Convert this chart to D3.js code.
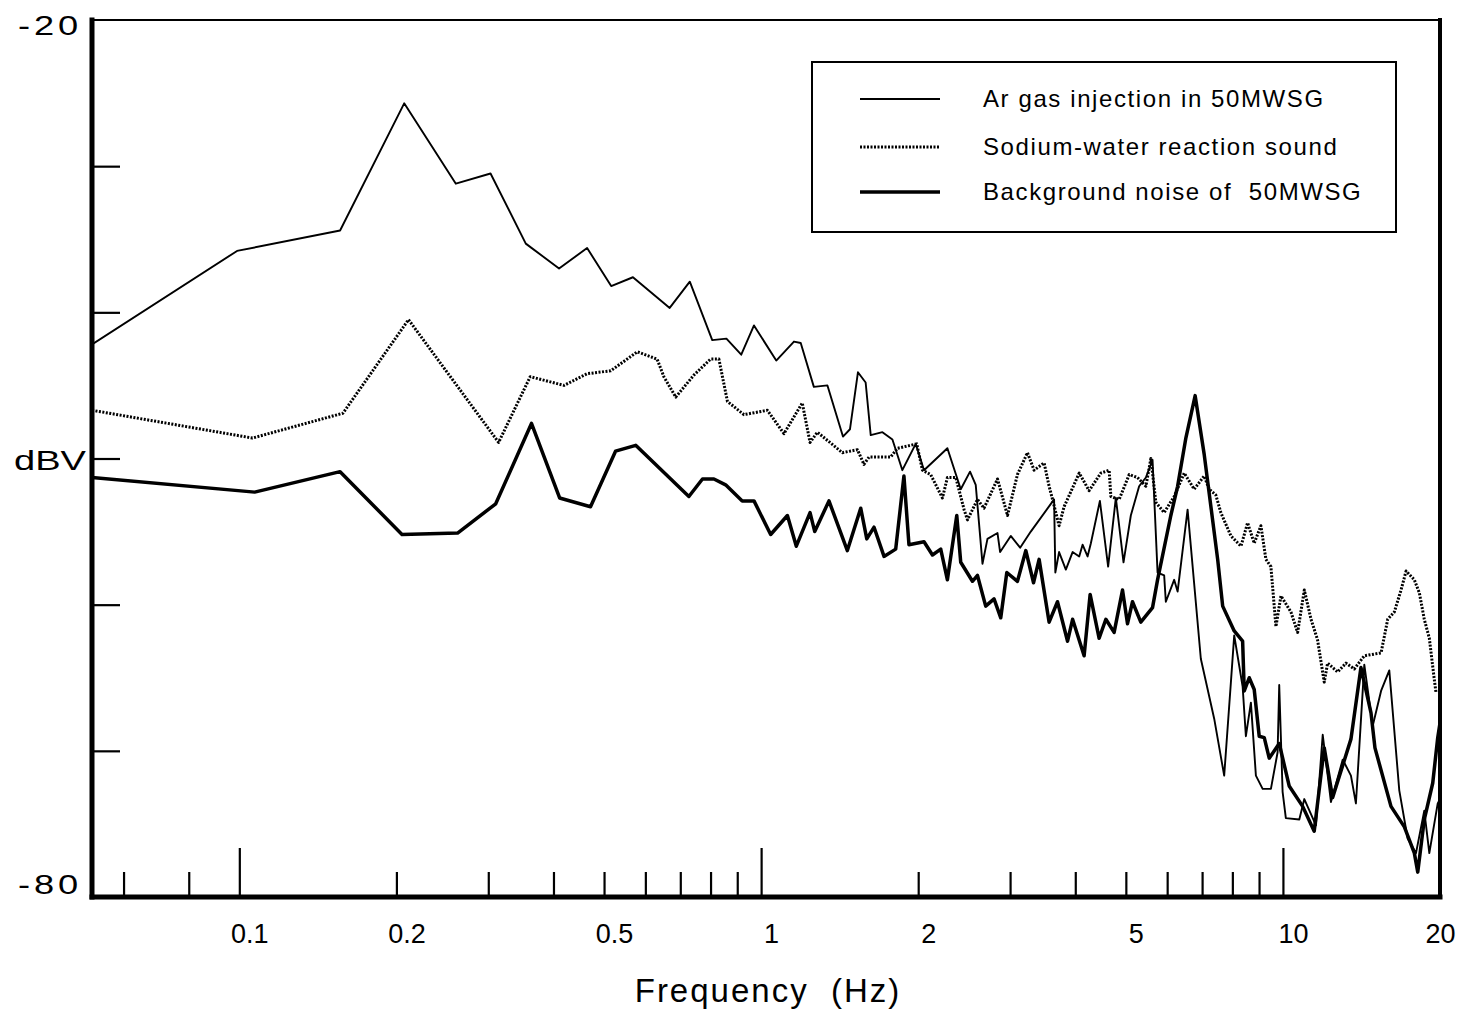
<!DOCTYPE html>
<html>
<head>
<meta charset="utf-8">
<script src="https://cdn.jsdelivr.net/npm/d3@7"></script>
<style>
    body { margin: 0; background: #fff; }
    svg { display: block; }
</style>
</head>
<body>
<div id="container"></div>
<script>
const margin = ({top: 20, right: 26, bottom: 117, left: 92});
const width = 1466,
    height = 1014;
const font = "'Liberation Sans', Arial, Helvetica, sans-serif";

// Ar gas injection in 50MWSG: frequency (Hz) / level (dBV)
const argasFreq = [0.0522, 0.099, 0.156, 0.207, 0.260, 0.303, 0.354, 0.410, 0.464, 0.516,
    0.568, 0.668, 0.730, 0.806, 0.858, 0.916, 0.969, 1.069, 1.156, 1.191,
    1.262, 1.340, 1.435, 1.480, 1.533, 1.586, 1.622, 1.708, 1.785, 1.865,
    1.978, 2.052, 2.275, 2.413, 2.514, 2.578, 2.656, 2.715, 2.838, 2.871,
    3.009, 3.136, 3.287, 3.643, 3.663, 3.724, 3.837, 3.953, 4.070, 4.131,
    4.223, 4.285, 4.459, 4.624, 4.784, 4.949, 5.111, 5.302, 5.462, 5.625,
    5.751, 5.921, 5.965, 6.188, 6.283, 6.566, 6.961, 7.384, 7.717, 7.949,
    8.066, 8.371, 8.492, 8.682, 8.876, 9.144, 9.484, 9.768, 9.838, 9.986,
    10.13, 10.75, 10.99, 11.57, 11.92, 12.36, 13.02, 13.50, 13.80, 14.32,
    14.86, 15.42, 15.99, 16.71, 17.34, 17.99, 18.66, 19.08, 19.80, 20.0];
const argasLevel = [-42.2, -35.8, -34.4, -25.7, -31.2, -30.5, -35.3, -37.0, -35.6, -38.2,
    -37.6, -39.7, -37.9, -41.9, -41.8, -42.9, -40.9, -43.3, -42.0, -42.1,
    -45.1, -45.0, -48.5, -48.0, -44.1, -44.8, -48.4, -48.2, -48.7, -50.8,
    -49.0, -50.8, -49.3, -52.1, -50.9, -51.8, -57.2, -55.5, -55.1, -56.4,
    -55.3, -56.1, -55.0, -52.8, -57.8, -56.4, -57.6, -56.4, -56.7, -55.9,
    -56.7, -55.8, -52.9, -57.4, -52.7, -57.1, -53.9, -51.9, -51.3, -50.1,
    -57.8, -58.0, -59.8, -58.3, -59.1, -53.5, -63.7, -67.8, -71.7, -65.3,
    -62.1, -65.6, -69.0, -66.7, -71.7, -72.6, -72.6, -70.1, -65.5, -72.8,
    -74.6, -74.7, -73.3, -75.1, -68.9, -73.5, -70.6, -71.7, -73.6, -64.1,
    -68.3, -65.9, -64.5, -72.7, -76.0, -77.0, -74.1, -77.0, -73.6, -73.3];

// Sodium-water reaction sound
const sodiumFreq = [0.0522, 0.106, 0.158, 0.211, 0.314, 0.361, 0.419, 0.464, 0.515, 0.579,
    0.632, 0.651, 0.686, 0.743, 0.800, 0.830, 0.862, 0.927, 1.028, 1.106,
    1.199, 1.241, 1.282, 1.431, 1.530, 1.574, 1.610, 1.771, 1.825, 1.987,
    2.038, 2.113, 2.226, 2.275, 2.361, 2.449, 2.486, 2.598, 2.674, 2.838,
    2.966, 3.099, 3.239, 3.335, 3.486, 3.564, 3.618, 3.724, 3.807, 4.070,
    4.252, 4.477, 4.645, 4.680, 4.854, 5.074, 5.264, 5.462, 5.584, 5.708,
    5.921, 6.188, 6.469, 6.760, 7.064, 7.224, 7.438, 7.604, 7.949, 8.310,
    8.557, 8.810, 9.074, 9.277, 9.484, 9.696, 9.913, 10.36, 10.67, 10.99,
    11.32, 11.65, 12.00, 12.18, 12.73, 13.21, 13.70, 14.32, 15.42, 15.88,
    16.35, 16.84, 17.22, 17.86, 18.26, 18.66, 19.08, 19.50, 19.65];
const sodiumLevel = [-46.7, -48.6, -46.9, -40.5, -48.9, -44.4, -45.0, -44.2, -44.0, -42.7,
    -43.2, -44.4, -45.8, -44.3, -43.2, -43.2, -46.1, -47.0, -46.7, -48.3,
    -46.2, -48.9, -48.2, -49.6, -49.4, -50.4, -49.9, -49.9, -49.3, -49.0,
    -50.8, -51.1, -52.7, -51.3, -51.3, -53.5, -54.2, -52.8, -53.4, -51.4,
    -53.9, -51.1, -49.6, -50.8, -50.3, -51.9, -52.8, -54.6, -53.3, -51.0,
    -52.2, -51.0, -50.8, -52.6, -52.8, -51.1, -51.3, -51.9, -50.0, -53.0,
    -53.7, -52.6, -51.0, -52.1, -51.2, -52.1, -52.5, -53.7, -55.3, -56.0,
    -54.4, -55.8, -54.6, -56.9, -57.4, -61.5, -59.4, -60.5, -61.9, -59.0,
    -61.0, -62.4, -65.3, -64.0, -64.6, -64.0, -64.4, -63.5, -63.3, -61.0,
    -60.5, -59.0, -57.7, -58.3, -59.2, -61.0, -62.3, -65.1, -66.0];

// Background noise of 50MWSG
const backgroundFreq = [0.0522, 0.107, 0.156, 0.205, 0.262, 0.310, 0.363, 0.411, 0.471, 0.526,
    0.575, 0.727, 0.772, 0.812, 0.855, 0.920, 0.969, 1.043, 1.123, 1.168,
    1.241, 1.267, 1.349, 1.463, 1.552, 1.594, 1.646, 1.720, 1.811, 1.878,
    1.920, 2.052, 2.130, 2.209, 2.275, 2.371, 2.413, 2.541, 2.598, 2.694,
    2.795, 2.879, 2.957, 3.099, 3.216, 3.327, 3.410, 3.564, 3.698, 3.866,
    3.953, 4.159, 4.271, 4.444, 4.578, 4.748, 4.927, 5.037, 5.149, 5.341,
    5.625, 5.751, 6.098, 6.283, 6.516, 6.789, 7.064, 7.278, 7.498, 7.666,
    8.066, 8.371, 8.431, 8.618, 8.810, 9.007, 9.209, 9.413, 9.838, 10.28,
    10.91, 11.48, 12.00, 12.45, 13.02, 13.50, 14.11, 14.75, 15.01, 16.11,
    17.09, 17.86, 18.13, 18.66, 19.37, 19.80, 20.0];
const backgroundLevel = [-51.3, -52.3, -50.9, -55.2, -55.1, -53.1, -47.6, -52.7, -53.3, -49.5,
    -49.1, -52.6, -51.4, -51.4, -51.8, -52.9, -52.9, -55.2, -53.9, -56.0,
    -53.7, -55.0, -52.9, -56.3, -53.4, -55.5, -54.7, -56.7, -56.2, -51.2,
    -55.9, -55.7, -56.6, -56.2, -58.3, -53.9, -57.1, -58.4, -58.0, -60.1,
    -59.6, -60.9, -57.8, -58.4, -56.3, -58.5, -56.9, -61.2, -59.8, -62.5,
    -61.0, -63.5, -59.3, -62.3, -61.0, -61.9, -59.0, -61.3, -59.8, -61.2,
    -60.2, -58.3, -53.9, -51.9, -48.6, -45.7, -49.7, -53.3, -56.9, -60.1,
    -61.8, -62.5, -65.9, -65.0, -65.8, -69.0, -69.1, -70.5, -69.5, -72.4,
    -73.8, -75.5, -69.8, -73.2, -71.0, -69.2, -64.3, -67.4, -69.8, -73.8,
    -75.2, -77.0, -78.3, -74.7, -72.2, -69.1, -68.1];

const seriesNames = ["Ar gas injection in 50MWSG", "Sodium-water reaction sound", "Background noise of  50MWSG"];

// axis ticks
const minorTicks = [0.06, 0.08, 0.2, 0.3, 0.4, 0.5, 0.6, 0.7, 0.8, 0.9, 2, 3, 4, 5, 6, 7, 8, 9];
const majorTicks = [0.1, 1, 10];
const xTickLabels = [0.1, 0.2, 0.5, 1, 2, 5, 10, 20];
const yTicks = [-30, -40, -50, -60, -70];

const x = d3.scaleLog()
    .domain([0.0522, 20])
    .range([margin.left, width - margin.right]);
const y = d3.scaleLinear()
    .domain([-80, -20])
    .range([height - margin.bottom, margin.top]);

const svg = d3.select("#container").append("svg")
    .attr("width", width)
    .attr("height", height)
    .attr("font-family", font);

svg.append("clipPath").attr("id", "plot-clip")
    .append("rect")
    .attr("x", x.range()[0])
    .attr("y", y.range()[1])
    .attr("width", x.range()[1] - x.range()[0])
    .attr("height", y.range()[0] - y.range()[1]);

// Series
const series = [
    {name: seriesNames[0], freq: argasFreq, level: argasLevel, width: 1.9, dash: null},
    {name: seriesNames[1], freq: sodiumFreq, level: sodiumLevel, width: 3, dash: "2,1.5"},
    {name: seriesNames[2], freq: backgroundFreq, level: backgroundLevel, width: 3.5, dash: null}
];

const line = d3.line()
    .x(d => x(d[0]))
    .y(d => y(d[1]));

const plot = svg.append("g").attr("clip-path", "url(#plot-clip)");
for (let s of series) {
    plot.append("path")
        .datum(d3.zip(s.freq, s.level))
        .attr("fill", "none")
        .attr("stroke", "#000")
        .attr("stroke-width", s.width)
        .attr("stroke-linejoin", "round")
        .attr("stroke-dasharray", s.dash)
        .attr("d", line);
}

// Ticks (drawn inward)
function tickAxis(g, axis) {
    return g.call(axis)
        .call(g => g.select(".domain").remove())
        .call(g => g.selectAll(".tick line").attr("stroke", "#000").attr("stroke-width", 2.2));
}
svg.append("g")
    .attr("transform", `translate(0,${y(-80)})`)
    .call(tickAxis, d3.axisBottom(x).tickValues(minorTicks).tickSize(-25).tickFormat(""));
svg.append("g")
    .attr("transform", `translate(0,${y(-80)})`)
    .call(tickAxis, d3.axisBottom(x).tickValues(majorTicks).tickSize(-49).tickFormat(""));
svg.append("g")
    .attr("transform", `translate(${x(0.0522)},0)`)
    .call(tickAxis, d3.axisLeft(y).tickValues(yTicks).tickSize(-28).tickFormat(""));

// x tick labels
svg.append("g")
    .attr("transform", `translate(0,${y(-80)})`)
    .call(d3.axisBottom(x).tickValues(xTickLabels).tickSize(0).tickPadding(27).tickFormat(d => d))
    .call(g => g.select(".domain").remove())
    .call(g => g.selectAll("text")
        .attr("font-family", font)
        .attr("font-size", 27)
        .attr("dx", d => d === 20 ? 0 : 10)
        .attr("fill", "#000"));

// Frame
const [x0, x1] = x.range(), [y0, y1] = y.range();
const frame = svg.append("g").attr("stroke", "#000").attr("stroke-linecap", "square");
frame.append("line").attr("x1", x0).attr("x2", x1).attr("y1", y1).attr("y2", y1).attr("stroke-width", 2);
frame.append("line").attr("x1", x0).attr("x2", x1).attr("y1", y0).attr("y2", y0).attr("stroke-width", 5);
frame.append("line").attr("x1", x0).attr("x2", x0).attr("y1", y1).attr("y2", y0).attr("stroke-width", 5);
frame.append("line").attr("x1", x1).attr("x2", x1).attr("y1", y1).attr("y2", y0).attr("stroke-width", 4);

// y labels (wide plotter lettering)
const yLab = svg.append("g")
    .attr("text-anchor", "end")
    .attr("fill", "#000");
yLab.append("text")
    .attr("x", 82).attr("y", y(-20) + 15)
    .attr("font-size", 28).attr("letter-spacing", 3)
    .attr("textLength", 64).attr("lengthAdjust", "spacingAndGlyphs")
    .text("-20");
yLab.append("text")
    .attr("x", 86).attr("y", y(-50) + 11)
    .attr("font-size", 28)
    .attr("textLength", 72).attr("lengthAdjust", "spacingAndGlyphs")
    .text("dBV");
yLab.append("text")
    .attr("x", 82).attr("y", y(-80) - 3)
    .attr("font-size", 28).attr("letter-spacing", 3)
    .attr("textLength", 64).attr("lengthAdjust", "spacingAndGlyphs")
    .text("-80");

// x title
svg.append("text")
    .attr("x", (x0 + x1) / 2 + 2)
    .attr("y", 1002)
    .attr("text-anchor", "middle")
    .attr("font-size", 33)
    .attr("letter-spacing", 2)
    .attr("xml:space", "preserve")
    .text("Frequency  (Hz)");

// Legend
const legend = svg.append("g");
legend.append("rect")
    .attr("x", 812).attr("y", 62)
    .attr("width", 584).attr("height", 170)
    .attr("fill", "#fff")
    .attr("stroke", "#000")
    .attr("stroke-width", 2);
const legendY = [99, 147, 192];
series.forEach((s, i) => {
    legend.append("line")
        .attr("x1", 860).attr("x2", 940)
        .attr("y1", legendY[i]).attr("y2", legendY[i])
        .attr("stroke", "#000")
        .attr("stroke-width", s.width)
        .attr("stroke-dasharray", s.dash);
    legend.append("text")
        .attr("x", 983).attr("y", legendY[i] + 8)
        .attr("font-size", 24)
        .attr("letter-spacing", 1.6)
        .attr("xml:space", "preserve")
        .text(s.name);
});
</script>
</body>
</html>
